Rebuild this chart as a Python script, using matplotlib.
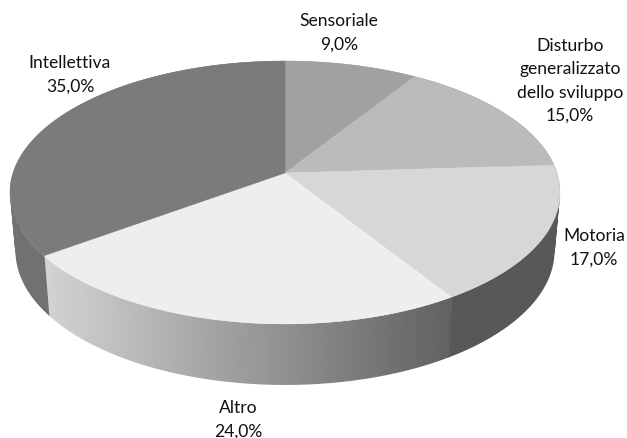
import numpy as np
import matplotlib
matplotlib.use("Agg")
import matplotlib.pyplot as plt
from matplotlib.patches import Polygon, PathPatch
from matplotlib.path import Path

# --- data ---
categories = ["Sensoriale", "Disturbo\ngeneralizzato\ndello sviluppo", "Motoria", "Altro", "Intellettiva"]
values = [9.0, 15.0, 17.0, 24.0, 35.0]

top_colors = ["#a1a1a1", "#bbbbbb", "#d7d7d7", "#eeeeee", "#7b7b7b"]
# wall shade, left edge / right edge of each slice
wall_left = [0.62, 0.45, 0.345, 0.83, 0.45]
wall_right = [0.62, 0.45, 0.345, 0.38, 0.42]

label_pos = [(339, 33), (570, 81), (594, 248), (238, 420), (70, 75)]

plt.rcParams["font.family"] = ["Lato", "DejaVu Sans"]

# --- perspective of the pie, in pixels ---
CX, CY = 285, 174
A, B, K = 128.6, 272, 0.148


def project(theta, depth=False):
    # theta clockwise from 12 o'clock, radians
    X, Y = np.sin(theta), np.cos(theta)
    d = 1 + K * Y
    dx = B * X / d
    dy = -A * Y / d
    if depth:
        return CX + 0.98 * dx, CY + 1.02 * dy + 58
    return CX + dx, CY + dy


def wall_path(t0, t1):
    # one quad per step, all turned the same way so the rim folds do not cancel out
    thetas = np.linspace(t0, t1, 200)
    x_top, y_top = project(thetas)
    x_bot, y_bot = project(thetas, depth=True)
    quads = []
    for j in range(len(thetas) - 1):
        q = np.array([(x_top[j], y_top[j]), (x_top[j + 1], y_top[j + 1]),
                      (x_bot[j + 1], y_bot[j + 1]), (x_bot[j], y_bot[j])])
        area = np.sum(q[:, 0] * np.roll(q[:, 1], -1) - np.roll(q[:, 0], -1) * q[:, 1])
        if area < 0:
            q = q[::-1]
        quads.append(Path(np.vstack([q, q[0]]), closed=True))
    return Path.make_compound_path(*quads)


fig = plt.figure(figsize=(6.27, 4.39), dpi=100)
ax = fig.add_axes([0, 0, 1, 1])
ax.axis("off")

edges = np.radians(np.cumsum([0] + values) * 3.6)

# side wall: a horizontal gradient clipped to the rim band of each slice
for i in range(len(values)):
    path = wall_path(edges[i] - 0.004, edges[i + 1] + 0.004)
    band = PathPatch(path, facecolor="none", edgecolor="none", transform=ax.transData)
    ax.add_patch(band)
    grad = np.linspace(wall_left[i], wall_right[i], 256).reshape(1, -1)
    v = path.vertices
    im = ax.imshow(grad, cmap="gray", vmin=0, vmax=1, aspect="auto", interpolation="bilinear",
                   extent=(v[:, 0].min(), v[:, 0].max(), v[:, 1].max(), v[:, 1].min()))
    im.set_clip_path(band)

# top face
for i in range(len(values)):
    thetas = np.linspace(edges[i], edges[i + 1], 200)
    xs, ys = project(thetas)
    pts = np.column_stack([np.r_[CX, xs], np.r_[CY, ys]])
    ax.add_patch(Polygon(pts, facecolor=top_colors[i], edgecolor=top_colors[i], lw=0.3))

ax.set_xlim(0, 627)
ax.set_ylim(439, 0)

# labels
for name, val, (x, y) in zip(categories, values, label_pos):
    txt = name + "\n" + f"{val:.1f}%".replace(".", ",")
    ax.text(x, y, txt, ha="center", va="center", fontsize=12.6, color="#111111", linespacing=1.55)

fig.savefig("out.png", dpi=100)
